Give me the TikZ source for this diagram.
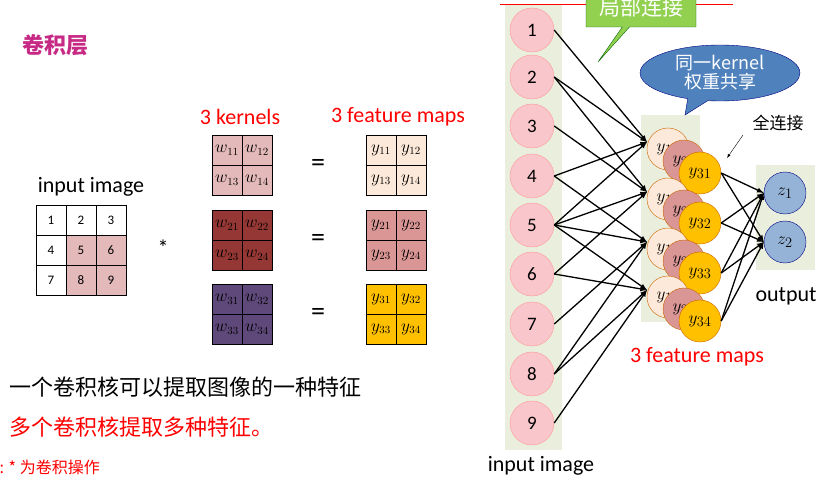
\documentclass[tikz,border=0pt]{standalone}
\usepackage{fontspec}
\setmainfont{Carlito}
\newfontfamily\cjk{Noto Sans CJK SC}
\usetikzlibrary{shapes.callouts,shapes.geometric}
\definecolor{inpink}{HTML}{F8C6CB}
\definecolor{bgrey}{HTML}{EAEEDD}
\definecolor{kpink}{HTML}{E4B9B9}
\definecolor{kred}{HTML}{953734}
\definecolor{kpurple}{HTML}{5F497A}
\definecolor{fpeach}{HTML}{FDE9D9}
\definecolor{frose}{HTML}{D99694}
\definecolor{fgold}{HTML}{FFC000}
\definecolor{zblue}{HTML}{95B3D7}
\definecolor{cgreen}{HTML}{92D050}
\definecolor{cblue}{HTML}{4F81BD}
\tikzset{
  innode/.style={circle,draw=red!40,fill=inpink,minimum size=44pt,inner sep=0pt,font=\fontsize{19}{19}\selectfont},
  ynode/.style={circle,draw=orange!80!black,minimum size=42pt,inner sep=0pt,font=\fontsize{19}{19}\selectfont},
  znode/.style={circle,draw=blue!50!black,fill=zblue,minimum size=42pt,inner sep=0pt,font=\fontsize{19}{19}\selectfont},
  cell/.style={draw,minimum size=30pt,inner sep=0pt,font=\fontsize{13}{13}\selectfont},
  mcell/.style={cell,font=\fontsize{16}{16}\selectfont},
  link/.style={-latex,line width=1.3pt},
  redtxt/.style={text=red,font=\fontsize{22}{22}\selectfont}
}
\begin{document}
\begin{tikzpicture}[x=1pt,y=-1pt]
\useasboundingbox (0,0) rectangle (830,484);
\draw[red,line width=1pt] (500,5) -- (733,5);
% backgrounds
\fill[bgrey] (505,5) rectangle (562,450);
\fill[bgrey] (641,115) rectangle (700,322);
\fill[bgrey] (756,165) rectangle (815,270);
% input neurons
\foreach \i/\y in {1/30,2/77,3/126,4/176,5/225,6/274,7/324,8/374,9/423}
  \node[innode] (x\i) at (532,\y) {\i};
% feature map neurons
\foreach \j/\y in {1/142,2/192,3/242,4/290} {
  \node[ynode,fill=fpeach] (a\j) at (668,\y+7) {$y_{1\j}$};
  \node[ynode,fill=frose] (b\j) at (684,\y+19) {$y_{2\j}$};
  \node[ynode,fill=fgold] (c\j) at (700,\y+31) {$y_{3\j}$};
  \coordinate (in\j) at (647,\y);
}
\node[znode] (z1) at (785,193) {$z_1$};
\node[znode] (z2) at (785,242) {$z_2$};
% local connections
\foreach \s/\t in {1/1,2/1,4/1,5/1,2/2,3/2,5/2,6/2,4/3,5/3,7/3,8/3,5/4,6/4,8/4,9/4}
  \draw[link] (x\s.east) -- (in\t);
% full connections
\foreach \j in {1,...,4}
  \foreach \k in {1,2}
    \draw[link] (c\j.east) -- (z\k.west);
% callouts
\node[rectangle callout,draw=green!40!black,fill=cgreen,text=white,minimum width=110pt,minimum height=38pt,
  callout absolute pointer={(598,62)},font=\cjk\fontsize{21}{21}\selectfont] (local) at (641,8) {局部连接};
\node[ellipse callout,draw=blue!50!black,fill=cblue,text=white,minimum width=160pt,minimum height=56pt,inner sep=0pt,
  callout absolute pointer={(685,115)},align=center,font=\cjk\fontsize{18}{19}\selectfont] (share) at (720,73) {同一kernel\\权重共享};
\node[font=\cjk\fontsize{17}{17}\selectfont] (full) at (778,123) {全连接};
\coordinate (fullend) at (727,158);
\draw[-latex] (743,135) -- (fullend);
% left part
\node[text=magenta!80!black,font=\cjk\bfseries\fontsize{22}{22}\selectfont] (title) at (55,45) {卷积层};
\node[font=\fontsize{22}{22}\selectfont] (inlabel) at (91,187) {input image};
\foreach \r in {1,2,3}
  \foreach \c in {1,2,3} {
    \pgfmathtruncatemacro{\v}{(\r-1)*3+\c}
    \node[cell,fill=white] (g\v) at (36+15+30*\c-30,205+15+30*\r-30) {\v};
  }
\foreach \v in {5,6,8,9} \node[cell,fill=kpink] at (g\v) {\v};
\node[font=\fontsize{22}{22}\selectfont] (star) at (163,248) {*};
\node[redtxt] (klabel) at (240,117) {3 kernels};
\node[redtxt] (flabel) at (398,117) {3 feature maps};
\foreach \k/\col/\fcol/\y in {1/kpink/fpeach/135,2/kred/frose/210,3/kpurple/fgold/284} {
  \foreach \p/\dx/\dy in {1/0/0,2/1/0,3/0/1,4/1/1} {
    \node[mcell,fill=\col] (w\k\p) at (227+30*\dx,\y+15+30*\dy) {$w_{\k\p}$};
    \node[mcell,fill=\fcol] (f\k\p) at (381+30*\dx,\y+15+30*\dy) {$y_{\k\p}$};
  }
  \node[font=\fontsize{28}{28}\selectfont] (eq\k) at (318,\y+30) {=};
}
\node[anchor=west,font=\cjk\fontsize{22}{22}\selectfont] (note1) at (6,387) {一个卷积核可以提取图像的一种特征};
\node[anchor=west,text=red,font=\cjk\fontsize{22}{22}\selectfont] (note2) at (6,427) {多个卷积核提取多种特征。};
\node[anchor=west,text=red,font=\cjk\fontsize{16}{16}\selectfont] (note3) at (-4,467) {: * 为卷积操作};
\node[font=\fontsize{22}{22}\selectfont] (inlabel2) at (541,466) {input image};
\node[redtxt] (ylabel) at (697,357) {3 feature maps};
\node[font=\fontsize{22}{22}\selectfont] (outlabel) at (786,296) {output};
\end{tikzpicture}
\end{document}
